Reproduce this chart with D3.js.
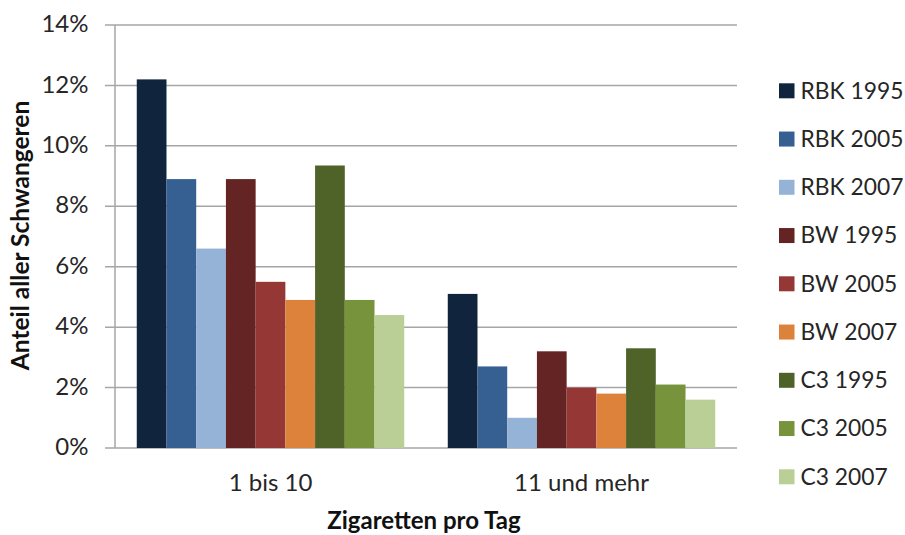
<!DOCTYPE html>
<html><head><meta charset="utf-8">
<script src="https://cdn.jsdelivr.net/npm/d3@7"></script>
<style>
body{margin:0;background:#fff;}
svg{display:block;font-family:Lato, "Open Sans", sans-serif;}
</style></head>
<body><svg id="c" width="905" height="535"></svg>
<script>
const categories = ["1 bis 10", "11 und mehr"];
const seriesNames = ["RBK 1995","RBK 2005","RBK 2007","BW 1995","BW 2005","BW 2007","C3 1995","C3 2005","C3 2007"];
const seriesColors = ["#10243e","#366092","#95b3d7","#632423","#953735","#dd823b","#4f6228","#77933c","#bacf96"];
// values in percent: one array per category, ordered like seriesNames
const values1bis10 = [12.2, 8.9, 6.6, 8.9, 5.5, 4.9, 9.35, 4.9, 4.4];
const values11undMehr = [5.1, 2.7, 1.0, 3.2, 2.0, 1.8, 3.3, 2.1, 1.6];
const yTicks = [0, 2, 4, 6, 8, 10, 12, 14];
const xTitle = "Zigaretten pro Tag";
const yTitle = "Anteil aller Schwangeren";

const valuesByCat = [values1bis10, values11undMehr];
const svg = d3.select("#c");
const pL = 115, pR = 737, pT = 25, pB = 448;

const x0 = d3.scaleBand().domain(categories).range([pL, pR]).paddingInner(0.14).paddingOuter(0.07);
const x1 = d3.scaleBand().domain(seriesNames).range([0, x0.bandwidth()]);
const y = d3.scaleLinear().domain([0, 14]).range([pB, pT]);
const color = d3.scaleOrdinal().domain(seriesNames).range(seriesColors);

// gridlines
svg.append("g").selectAll("line").data(yTicks).join("line")
  .attr("x1", pL - 10).attr("x2", pR)
  .attr("y1", d => y(d)).attr("y2", d => y(d))
  .attr("stroke", "#a6a6a6").attr("stroke-width", 1.5);
// y axis line
svg.append("line").attr("x1", pL).attr("x2", pL).attr("y1", pT).attr("y2", pB)
  .attr("stroke", "#a6a6a6").attr("stroke-width", 1.5);

// y tick labels
svg.append("g").selectAll("text").data(yTicks).join("text")
  .attr("x", 88.5).attr("y", d => y(d)).attr("dy", "0.3em")
  .attr("text-anchor", "end").attr("font-size", 24).attr("fill", "#262626")
  .text(d => d + "%");

// bars
const groups = svg.append("g").selectAll("g").data(categories).join("g")
  .attr("transform", c => `translate(${x0(c)},0)`);
groups.selectAll("rect").data((c, i) => seriesNames.map((s, j) => ({s, v: valuesByCat[i][j]})))
  .join("rect")
  .attr("x", d => x1(d.s)).attr("width", x1.bandwidth())
  .attr("y", d => y(d.v)).attr("height", d => y(0) - y(d.v))
  .attr("fill", d => color(d.s));

// x labels
svg.append("g").selectAll("text").data(categories).join("text")
  .attr("x", c => x0(c) + x0.bandwidth() / 2).attr("y", 491)
  .attr("text-anchor", "middle").attr("font-size", 24).attr("fill", "#262626")
  .text(d => d);

// axis titles
svg.append("text").attr("x", (pL + pR) / 2 - 2).attr("y", 528.5)
  .attr("text-anchor", "middle").attr("font-size", 24).attr("font-weight", "bold").attr("fill", "#111")
  .text(xTitle);
svg.append("text").attr("transform", "translate(28.5,235.5) rotate(-90)")
  .attr("text-anchor", "middle").attr("font-size", 24.5).attr("font-weight", "bold").attr("fill", "#111")
  .text(yTitle);

// legend
const leg = svg.append("g").selectAll("g").data(seriesNames).join("g")
  .attr("transform", (d, i) => `translate(779,${90.8 + i * 48.25})`);
leg.append("rect").attr("x", 0).attr("y", -7.5).attr("width", 15.5).attr("height", 15)
  .attr("fill", d => color(d));
leg.append("text").attr("x", 21.5).attr("y", 0).attr("dy", "0.34em")
  .attr("font-size", 22.8).attr("fill", "#262626").text(d => d);
</script></body></html>
